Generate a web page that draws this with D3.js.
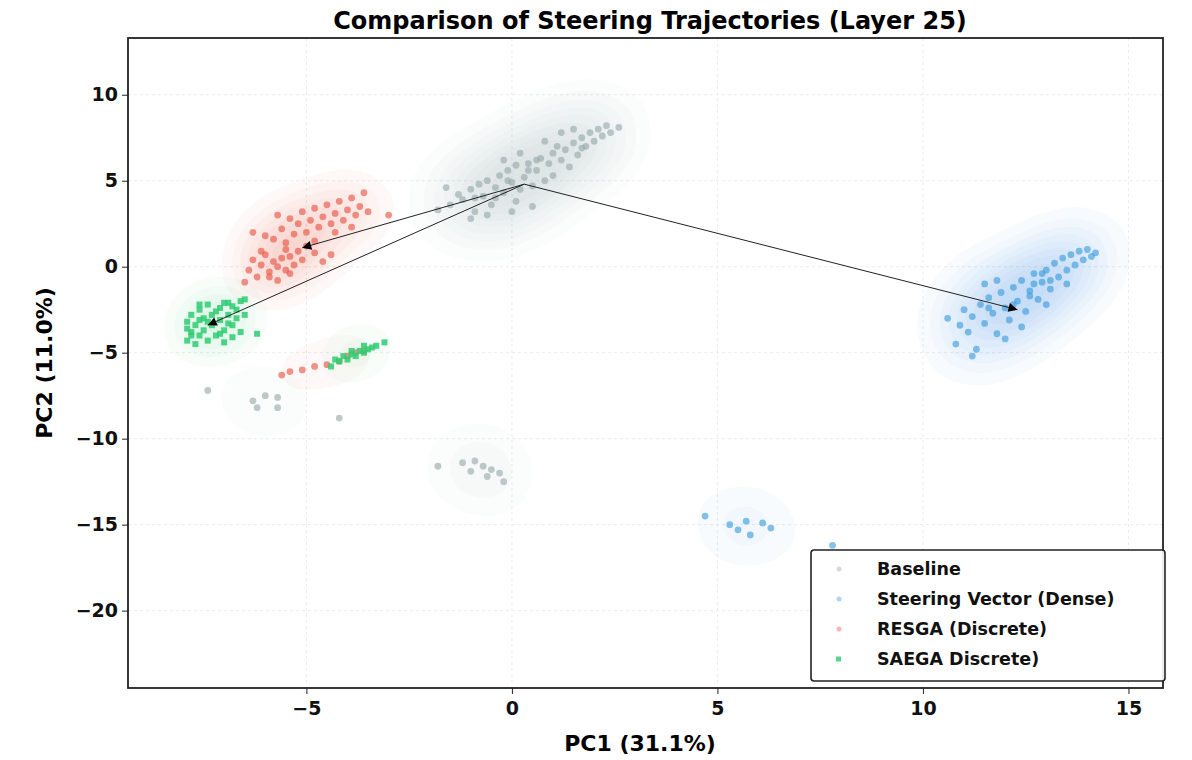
<!DOCTYPE html><html><head><meta charset="utf-8"><script src="https://cdn.jsdelivr.net/npm/d3@7"></script>
<style>body{margin:0;background:#fff}text{font-family:"DejaVu Sans",sans-serif;font-weight:bold}</style></head><body><svg id="c" width="1192" height="760"></svg><script>
const xTicks=[-5,0,5,10,15], yTicks=[10,5,0,-5,-10,-15,-20];
const seriesNames=["Baseline","Steering Vector (Dense)","RESGA (Discrete)","SAEGA Discrete)"];
const seriesColors=["#95a5a6","#3498db","#e74c3c","#2ecc71"];
const baseline=[[-1.8,3.3],[-1.5,3.6],[-1.3,4.2],[-1.2,3.9],[-1.0,4.5],[-0.9,3.2],[-0.8,4.8],[-0.7,4.1],[-0.6,5.0],[-0.5,3.6],[-0.4,4.6],[-0.3,5.3],[-0.2,4.3],[-0.1,5.6],[0,4.9],[0.1,3.8],[0.1,5.9],[0.2,4.5],[0.3,5.2],[0.4,6.0],[0.5,4.7],[0.5,3.5],[0.6,5.6],[0.7,6.3],[0.8,5.0],[0.9,6.0],[1.0,6.6],[1.0,5.3],[1.1,7.0],[1.2,6.2],[1.3,6.8],[1.4,5.8],[1.5,7.2],[1.6,6.5],[1.7,7.5],[1.8,7.0],[1.9,7.8],[2.0,7.3],[2.1,8.0],[2.2,7.6],[2.3,8.2],[2.4,7.8],[-1.0,2.8],[-0.6,3.0],[0.2,6.6],[0.8,7.3],[-0.2,6.2],[1.2,7.8],[-1.6,4.6],[0.0,3.2],[2.6,8.1],[1.5,8.0],[0.4,5.6],[-0.4,4.0],[-0.9,4.0],[0.6,6.2],[1.7,6.9],[-0.1,5.0],
[-7.4,-7.2],[-6.3,-7.8],[-6.0,-7.5],[-5.7,-7.6],[-6.2,-8.2],[-5.7,-8.2],[-4.2,-8.8],
[-1.8,-11.6],[-1.2,-11.4],[-0.9,-11.3],[-0.7,-11.6],[-0.5,-11.8],[-0.3,-12.0],[-0.6,-12.2],[-0.2,-12.5],[-1.0,-11.9]];
const steering=[[10.8,-4.5],[10.9,-3.4],[11.0,-2.5],[11.1,-3.8],[11.2,-2.9],[11.3,-4.8],[11.4,-2.2],[11.5,-3.3],[11.6,-1.8],[11.7,-2.7],[11.8,-3.9],[11.9,-1.5],[12.0,-2.4],[12.1,-3.1],[12.2,-1.2],[12.3,-2.0],[12.4,-0.8],[12.5,-2.6],[12.6,-1.4],[12.7,-0.4],[12.8,-1.9],[12.9,-0.9],[13.0,-0.2],[13.1,-1.3],[13.2,0.2],[13.3,-0.6],[13.4,0.5],[13.5,-0.2],[13.6,0.7],[13.7,0.1],[13.8,0.9],[13.9,0.4],[14.0,1.0],[14.1,0.6],[14.2,0.8],[11.5,-1.0],[12.0,-4.2],[10.6,-3.0],[12.4,-3.5],[13.0,-2.2],[11.2,-5.2],[12.7,-1.0],[11.8,-0.8],[13.5,-1.0],[12.2,-2.2],[12.6,-1.7],[13.1,-0.8],[11.6,-2.4],[12.9,-0.4],
[4.7,-14.5],[5.5,-15.3],[5.7,-14.8],[5.8,-15.6],[6.1,-14.9],[6.3,-15.2],[7.8,-16.2],[5.3,-15.0]];
const resga=[[-5.8,1.6],[-5.6,2.2],[-5.5,1.4],[-5.4,2.8],[-5.3,1.9],[-5.2,2.5],[-5.1,3.2],[-5.0,2.0],[-4.9,2.7],[-4.8,3.4],[-4.7,2.3],[-4.6,2.9],[-4.5,3.6],[-4.4,2.5],[-4.3,3.1],[-4.2,3.8],[-4.1,2.7],[-4.0,3.3],[-3.9,4.0],[-3.8,3.0],[-3.7,3.5],[-3.6,4.3],[-3.5,3.2],[-3.0,3.0],[-6.3,2.0],[-6.0,1.8],[-4.8,1.5],[-5.7,3.0],[-4.3,2.0],[-3.9,2.3],
[-6.4,-0.2],[-6.3,0.4],[-6.2,-0.6],[-6.1,0.1],[-6.0,0.7],[-5.9,-0.3],[-5.8,0.3],[-5.7,-0.8],[-5.6,0.5],[-5.5,1.0],[-5.5,-0.2],[-5.4,0.6],[-5.3,0.1],[-5.2,0.9],[-5.1,0.4],[-5.0,1.2],[-4.8,0.8],[-6.5,-0.9],[-5.9,-0.6],[-4.6,0.3],[-4.4,0.7],[-6.1,0.9],[-5.7,0.0],[-5.4,-0.4],
[-5.6,-6.3],[-5.4,-6.1],[-5.1,-6.0],[-4.8,-5.8],[-4.5,-5.7],[-4.2,-5.5],[-4.0,-5.2],[-3.8,-5.0],[-3.6,-4.9]];
const saega=[[-7.9,-4.3],[-7.9,-3.2],[-7.8,-2.8],[-7.8,-3.8],[-7.7,-4.5],[-7.7,-3.4],[-7.6,-2.5],[-7.6,-4.0],[-7.5,-3.0],[-7.5,-3.7],[-7.4,-2.2],[-7.4,-4.3],[-7.3,-2.8],[-7.3,-3.4],[-7.2,-4.0],[-7.1,-2.4],[-7.1,-3.1],[-7.0,-3.7],[-7.0,-4.4],[-6.9,-2.1],[-6.9,-2.8],[-6.8,-3.4],[-6.8,-4.1],[-6.7,-2.5],[-6.7,-3.0],[-6.6,-3.8],[-6.6,-2.0],[-6.5,-2.8],[-6.5,-1.9],[-6.2,-3.9],[-7.9,-3.6],[-7.6,-3.1],[-7.2,-2.6],[-7.0,-2.1],[-6.8,-2.3],[-7.8,-4.0],[-7.4,-3.2],[-7.1,-3.9],[-6.9,-3.3],[-7.6,-2.2],
[-4.4,-5.8],[-4.2,-5.5],[-4.0,-5.4],[-3.9,-5.1],[-3.8,-5.2],[-3.7,-4.9],[-3.6,-5.0],[-3.5,-4.8],[-3.4,-4.7],[-3.3,-4.6],[-3.1,-4.4],[-3.9,-4.9],[-4.1,-5.2],[-4.3,-5.4],[-3.6,-4.6]];
const arrowStart=[0.3,4.8];
const arrowEnds=[[-5.1,1.1],[-7.4,-3.4],[12.3,-2.5]];

const svg=d3.select("#c");
const L=128,R=1163,T=38,B=688;
const x=d3.scaleLinear().domain([-9.34,15.84]).range([L,R]);
const y=d3.scaleLinear().domain([-24.5,13.3]).range([B,T]);
const defs=svg.append("defs");
defs.append("clipPath").attr("id","clip").append("rect").attr("x",L).attr("y",T).attr("width",R-L).attr("height",B-T);
defs.append("marker").attr("id","ah").attr("viewBox","0 0 10 10").attr("refX",10).attr("refY",5).attr("markerWidth",20).attr("markerHeight",9).attr("markerUnits","userSpaceOnUse").attr("orient","auto")
 .append("path").attr("d","M0,0L10,5L0,10z").attr("fill","#000");
const g=svg.append("g").attr("clip-path","url(#clip)");
g.selectAll(".gx").data(xTicks).join("line").attr("x1",d=>x(d)).attr("x2",d=>x(d)).attr("y1",T).attr("y2",B).attr("stroke","#ececec").attr("stroke-dasharray","3,3");
g.selectAll(".gy").data(yTicks).join("line").attr("y1",d=>y(d)).attr("y2",d=>y(d)).attr("x1",L).attr("x2",R).attr("stroke","#ececec").attr("stroke-dasharray","3,3");
const all=[baseline,steering,resga,saega];
const bw=[30,28,22,20];
const envColors=["#a9bfc2","#3498db","#e74c3c","#2ecc71"];
all.forEach((pts,i)=>{
  const cs=d3.contourDensity().x(d=>x(d[0])).y(d=>y(d[1])).size([1192,760]).bandwidth(bw[i]).cellSize(2).thresholds(60)(pts);
  const max=d3.max(cs,c=>c.value);
  const sel=cs.filter((c,k)=>c.value>=max*0.045 && k%8===0);
  g.append("g").selectAll("path").data(sel).join("path").attr("d",d3.geoPath()).attr("fill",envColors[i]).attr("fill-opacity",i===0?0.045:0.035);
});
all.forEach((pts,i)=>{
  const gg=g.append("g");
  if(i===3) gg.selectAll("rect").data(pts).join("rect").attr("x",d=>x(d[0])-3).attr("y",d=>y(d[1])-3).attr("width",6).attr("height",6).attr("fill",seriesColors[i]).attr("fill-opacity",0.85);
  else gg.selectAll("circle").data(pts).join("circle").attr("cx",d=>x(d[0])).attr("cy",d=>y(d[1])).attr("r",3.4).attr("fill",seriesColors[i]).attr("fill-opacity",0.6);
});
g.selectAll(".arr").data(arrowEnds).join("line").attr("x1",x(arrowStart[0])).attr("y1",y(arrowStart[1])).attr("x2",d=>x(d[0])).attr("y2",d=>y(d[1])).attr("stroke","#222").attr("stroke-width",1).attr("marker-end","url(#ah)");
const ax=svg.append("g").attr("transform",`translate(0,${B})`).call(d3.axisBottom(x).tickValues(xTicks).tickFormat(d=>d<0?"−"+(-d):d).tickSize(6));
const ay=svg.append("g").attr("transform",`translate(${L},0)`).call(d3.axisLeft(y).tickValues(yTicks).tickFormat(d=>d<0?"−"+(-d):d).tickSize(6));
[ax,ay].forEach(a=>{a.select(".domain").remove();a.selectAll("text").attr("font-size",19).attr("fill","#111");a.selectAll("line").attr("stroke","#222");});
ax.selectAll("text").attr("dy","0.95em");
ay.selectAll("text").attr("x",-10);
svg.append("rect").attr("x",L).attr("y",T).attr("width",R-L).attr("height",B-T).attr("fill","none").attr("stroke","#222").attr("stroke-width",1.8);
svg.append("text").attr("x",650).attr("y",29).attr("text-anchor","middle").attr("font-size",24).text("Comparison of Steering Trajectories (Layer 25)");
svg.append("text").attr("x",640).attr("y",751).attr("text-anchor","middle").attr("font-size",22).text("PC1 (31.1%)");
svg.append("text").attr("transform","translate(52,363) rotate(-90)").attr("text-anchor","middle").attr("font-size",22).text("PC2 (11.0%)");
const lg=svg.append("g").attr("transform","translate(811,550)");
lg.append("rect").attr("width",354).attr("height",131).attr("rx",3).attr("fill","#fff").attr("fill-opacity",0.9).attr("stroke","#222").attr("stroke-width",1.6);
seriesNames.forEach((n,i)=>{
  const yy=19+i*30;
  if(i===3) lg.append("rect").attr("x",25).attr("y",yy-2.5).attr("width",5).attr("height",5).attr("fill",seriesColors[i]).attr("fill-opacity",0.8);
  else lg.append("circle").attr("cx",28).attr("cy",yy).attr("r",2.5).attr("fill",seriesColors[i]).attr("fill-opacity",0.4);
  lg.append("text").attr("x",66).attr("y",yy+6).attr("font-size",17.5).attr("fill","#111").text(n);
});
</script></body></html>
